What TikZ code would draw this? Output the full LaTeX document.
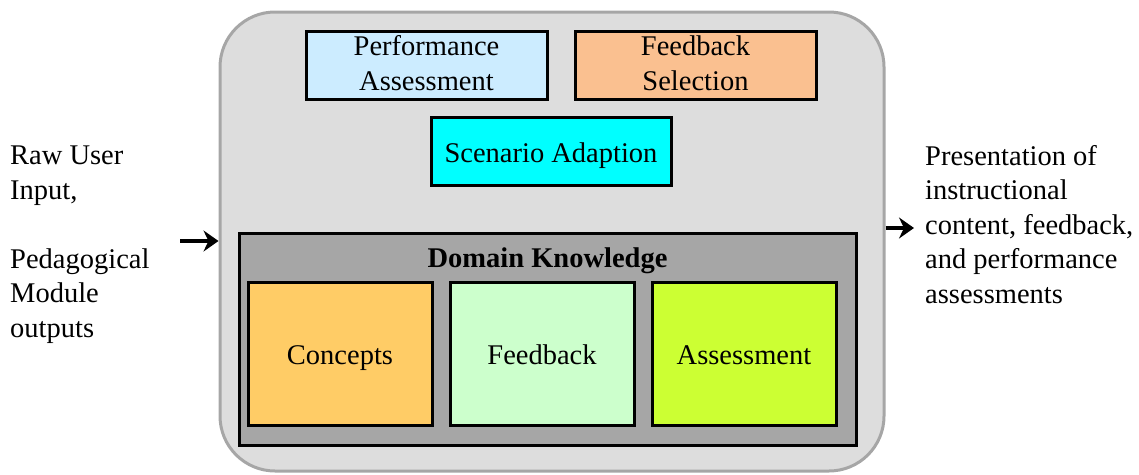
\documentclass[tikz,border=0pt]{standalone}
\usepackage{fontspec}
\setmainfont{Liberation Serif}
\usetikzlibrary{arrows.meta}
\definecolor{outerfill}{HTML}{DDDDDD}
\definecolor{outerline}{HTML}{A6A6A6}
\definecolor{domfill}{HTML}{A6A6A6}
\definecolor{pafill}{HTML}{CCECFF}
\definecolor{fsfill}{HTML}{FAC090}
\definecolor{safill}{HTML}{00FFFF}
\definecolor{cofill}{HTML}{FFCC66}
\definecolor{fbfill}{HTML}{CCFFCC}
\definecolor{asfill}{HTML}{CCFF33}
\tikzset{
  txt/.style={font=\fontsize{28.5}{34.5}\selectfont, inner sep=0pt},
  boxnode/.style={draw=black, line width=3pt, rectangle, inner sep=0pt},
  flowarrow/.style={line width=4.5pt, -{Stealth[length=15pt,width=21pt,inset=5pt]}}
}
\begin{document}
\begin{tikzpicture}[x=1pt,y=-1pt]
\useasboundingbox (0,0) rectangle (1139,474);
% outer module
\node[draw=outerline, fill=outerfill, line width=3pt, rounded corners=55pt,
  minimum width=664pt, minimum height=459pt, inner sep=0pt] (outer) at (552,241.5) {};
% top boxes
\node[boxnode, fill=pafill, minimum width=241pt, minimum height=68pt] (pa) at (426.5,65) {};
\node[txt, align=center, anchor=base] (patext) at (426.5,90) {Performance\\Assessment};
\node[boxnode, fill=fsfill, minimum width=241pt, minimum height=68pt] (fs) at (695.5,65) {};
\node[txt, align=center, anchor=base] (fstext) at (695.5,90) {Feedback\\Selection};
\node[boxnode, fill=safill, minimum width=240pt, minimum height=68pt] (sa) at (551,151) {};
\node[txt, anchor=base] (satext) at (551,162) {Scenario Adaption};
% domain knowledge
\node[boxnode, fill=domfill, minimum width=617pt, minimum height=212pt] (dom) at (547.5,339) {};
\node[txt, anchor=base, font=\fontsize{28.5}{34.5}\selectfont\bfseries] (domlabel) at (547.5,267) {Domain Knowledge};
\node[boxnode, fill=cofill, minimum width=184pt, minimum height=143pt] (co) at (340,353.5) {};
\node[txt, anchor=base] (cotext) at (340,364) {Concepts};
\node[boxnode, fill=fbfill, minimum width=184pt, minimum height=143pt] (fb) at (542,353.5) {};
\node[txt, anchor=base] (fbtext) at (542,364) {Feedback};
\node[boxnode, fill=asfill, minimum width=184pt, minimum height=143pt] (as) at (744,353.5) {};
\node[txt, anchor=base] (astext) at (744,364) {Assessment};
% side texts (base anchor = last line)
\node[txt, align=left, anchor=base west] (intext) at (10,337) {Raw User\\Input,\\[34.5pt]Pedagogical\\Module\\outputs};
\node[txt, align=left, anchor=base west] (outtext) at (925,303) {Presentation of\\instructional\\content, feedback,\\and performance\\assessments};
% arrows
\coordinate (instart) at (180,241);
\draw[flowarrow] (instart) -- (outer.west |- instart);
\coordinate (outend) at (914,228);
\draw[flowarrow] (outer.east |- outend) -- (outend);
\end{tikzpicture}
\end{document}
